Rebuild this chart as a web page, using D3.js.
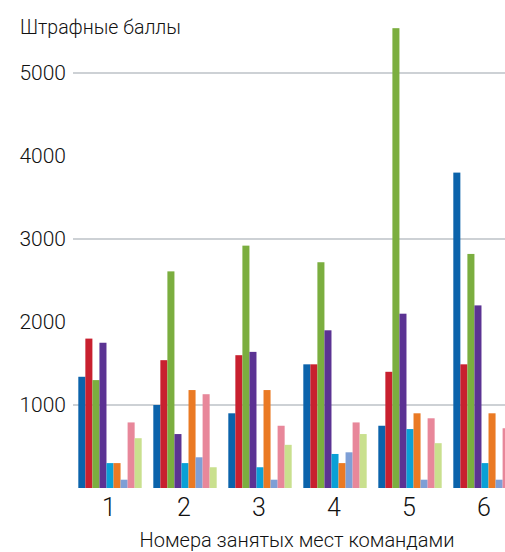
<!DOCTYPE html>
<html>
<head>
<meta charset="utf-8">
<script src="https://cdn.jsdelivr.net/npm/d3@7"></script>
<style>
  body { margin: 0; background: #fff; }
  svg { display: block; }
</style>
</head>
<body>
<script>
// places taken by the teams (groups)
var places = ["1", "2", "3", "4", "5", "6"];
var yTicks = [1000, 2000, 3000, 4000, 5000];
var gridTicks = [1000, 3000, 5000];

// one array per team, penalty points for each place group
var team1 = [1340, 1000, 900, 1490, 750, 3800];
var team2 = [1800, 1540, 1600, 1490, 1400, 1490];
var team3 = [1300, 2610, 2920, 2720, 5540, 2820];
var team4 = [1750, 650, 1640, 1900, 2100, 2200];
var team5 = [300, 300, 250, 410, 710, 300];
var team6 = [300, 1180, 1180, 300, 900, 900];
var team7 = [100, 370, 100, 430, 100, 100];
var team8 = [790, 1130, 750, 790, 840, 720];
var team9 = [600, 250, 520, 650, 540, 500];

var series = [team1, team2, team3, team4, team5, team6, team7, team8, team9];
var colors = ['#0b63ab', '#c8202f', '#7bae3f', '#5b3393', '#0aa0d6',
              '#ea7a24', '#7e9fd6', '#e8879a', '#c9e08e'];

var width = 505, height = 552;
var baseY = 488, topY = 73;

var svg = d3.select('body')
            .append('svg')
            .attr('width', width)
            .attr('height', height);

var xScale = d3.scaleBand()
               .domain(places)
               .range([72.5, 522.5])
               .paddingInner(0.155)
               .paddingOuter(0.0775);

var xInner = d3.scaleBand()
               .domain(d3.range(series.length))
               .range([0, xScale.bandwidth()]);

var yScale = d3.scaleLinear()
               .domain([0, 5000])
               .range([baseY, topY]);

// grid lines
svg.append('g')
   .selectAll('line')
   .data(gridTicks)
   .enter()
   .append('line')
   .attr('x1', 73)
   .attr('x2', width)
   .attr('y1', function(d){ return yScale(d); })
   .attr('y2', function(d){ return yScale(d); })
   .attr('stroke', '#bcc2c7')
   .attr('stroke-width', 1.6);

// bars
var groups = svg.append('g')
   .selectAll('g')
   .data(places)
   .enter()
   .append('g')
   .attr('transform', function(d){ return 'translate(' + xScale(d) + ',0)'; });

groups.selectAll('rect')
   .data(function(d, i){
     return series.map(function(s, j){ return {k: j, v: s[i]}; });
   })
   .enter()
   .append('rect')
   .attr('x', function(d){ return xInner(d.k); })
   .attr('y', function(d){ return yScale(d.v); })
   .attr('width', xInner.bandwidth())
   .attr('height', function(d){ return baseY - yScale(d.v); })
   .attr('fill', function(d){ return colors[d.k]; });

// y tick labels
svg.append('g')
   .selectAll('text')
   .data(yTicks)
   .enter()
   .append('text')
   .attr('x', 66)
   .attr('y', function(d){ return yScale(d) + 7; })
   .attr('text-anchor', 'end')
   .attr('font-family', 'Roboto')
   .attr('font-weight', 300)
   .attr('font-size', '21px')
   .attr('fill', '#111')
   .text(function(d){ return d; });

// x tick labels
svg.append('g')
   .selectAll('text')
   .data(places)
   .enter()
   .append('text')
   .attr('x', function(d){ return xScale(d) + xScale.bandwidth() / 2 - 1; })
   .attr('y', 516)
   .attr('text-anchor', 'middle')
   .attr('font-family', 'Roboto')
   .attr('font-weight', 300)
   .attr('font-size', '25px')
   .attr('fill', '#111')
   .text(function(d){ return d; });

svg.append('text')
   .attr('x', 20)
   .attr('y', 34)
   .attr('font-family', 'Roboto')
   .attr('font-weight', 300)
   .attr('font-size', '19.5px')
   .attr('fill', '#111')
   .text('Штрафные баллы');

svg.append('text')
   .attr('x', 297)
   .attr('y', 547)
   .attr('text-anchor', 'middle')
   .attr('font-family', 'Roboto')
   .attr('font-weight', 300)
   .attr('font-size', '20px')
   .attr('fill', '#111')
   .text('Номера занятых мест командами');
</script>
</body>
</html>
